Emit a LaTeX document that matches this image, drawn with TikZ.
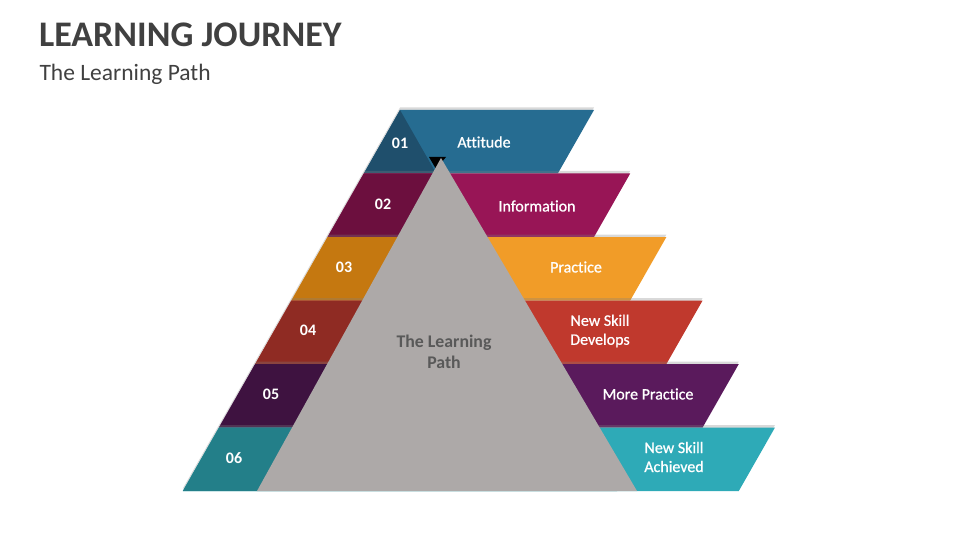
\documentclass[tikz,border=0pt]{standalone}
\usepackage{fontspec}
\setmainfont[Ligatures=NoCommon]{Carlito}
\newfontfamily\semibold[FakeBold=0.8, Ligatures=NoCommon]{Carlito}
\usepackage{tikz}
\usetikzlibrary{shadows}

\definecolor{titlegray}{HTML}{404040}
\definecolor{pathgray}{HTML}{ADA9A8}
\definecolor{pathtext}{HTML}{595959}
\definecolor{blueL}{HTML}{266C91}
\definecolor{blueD}{HTML}{1F4F6C}
\definecolor{magL}{HTML}{981556}
\definecolor{magD}{HTML}{6C0F3E}
\definecolor{orgL}{HTML}{F19C28}
\definecolor{orgD}{HTML}{C57810}
\definecolor{redL}{HTML}{C0392D}
\definecolor{redD}{HTML}{8F2B23}
\definecolor{purL}{HTML}{5A1A5C}
\definecolor{purD}{HTML}{3E1240}
\definecolor{tealL}{HTML}{2EAAB7}
\definecolor{tealD}{HTML}{237F89}

\begin{document}
\begin{tikzpicture}[
    x=1pt, y=-1pt,
    band/.style={drop shadow={shadow xshift=0pt, shadow yshift=2.5pt, opacity=0.3}},
    num/.style={text=white, font=\fontsize{16}{18}\selectfont\bfseries},
    bandtext/.style={text=white, align=center, font=\fontsize{16}{19}\semibold},
]
\useasboundingbox (0,0) rectangle (960,540);

% title
\node[anchor=west, text=titlegray, font=\fontsize{36}{42}\selectfont\bfseries] (title) at (35.5,35) {LEARNING JOURNEY};
\node[anchor=west, text=titlegray, font=\fontsize{23.5}{28}\selectfont] (subtitle) at (36,74) {The Learning Path};

% bands, top to bottom
\fill[blueL, band] (400,110) -- (594,110) -- (557.8,173.5) -- (363.8,173.5) -- cycle;
\fill[blueD] (400,110) -- (436.2,173.5) -- (363.8,173.5) -- cycle;

\fill[magL, band] (363.8,173.5) -- (630.2,173.5) -- (594,237) -- (327.6,237) -- cycle;
\fill[magD] (363.8,173.5) -- (436.2,173.5) -- (472.4,237) -- (327.6,237) -- cycle;

\fill[orgL, band] (327.6,237) -- (666.4,237) -- (630.2,300.5) -- (291.4,300.5) -- cycle;
\fill[orgD] (327.6,237) -- (472.4,237) -- (508.6,300.5) -- (291.4,300.5) -- cycle;

\fill[redL, band] (291.4,300.5) -- (702.6,300.5) -- (666.4,364) -- (255.2,364) -- cycle;
\fill[redD] (291.4,300.5) -- (508.6,300.5) -- (544.8,364) -- (255.2,364) -- cycle;

\fill[purL, band] (255.2,364) -- (738.8,364) -- (702.6,427.5) -- (219,427.5) -- cycle;
\fill[purD] (255.2,364) -- (544.8,364) -- (581,427.5) -- (219,427.5) -- cycle;

\fill[tealL, band] (219,427.5) -- (775,427.5) -- (738.8,491) -- (182.8,491) -- cycle;
\fill[tealD] (219,427.5) -- (581,427.5) -- (617.2,491) -- (182.8,491) -- cycle;

% the pyramid
\fill[black] (429,157) -- (446,157) -- (436,169) -- cycle;
\fill[pathgray] (441,158) -- (637,491) -- (257,491) -- cycle;
\node[text=pathtext, align=center, font=\fontsize{17.8}{21}\selectfont\bfseries] (path) at (444,352) {The Learning\\Path};

% numbers
\node[num] (n1) at (400,143) {01};
\node[num] (n2) at (383,204) {02};
\node[num] (n3) at (344,267) {03};
\node[num] (n4) at (308,330) {04};
\node[num] (n5) at (271,394) {05};
\node[num] (n6) at (234,458) {06};

% steps
\node[bandtext] (t1) at (484,142) {Attitude};
\node[bandtext] (t2) at (537,206) {Information};
\node[bandtext] (t3) at (576,267) {Practice};
\node[bandtext] (t4) at (600,331) {New Skill\\Develops};
\node[bandtext] (t5) at (648,394) {More Practice};
\node[bandtext] (t6) at (674,457) {New Skill\\Achieved};

\end{tikzpicture}
\end{document}
